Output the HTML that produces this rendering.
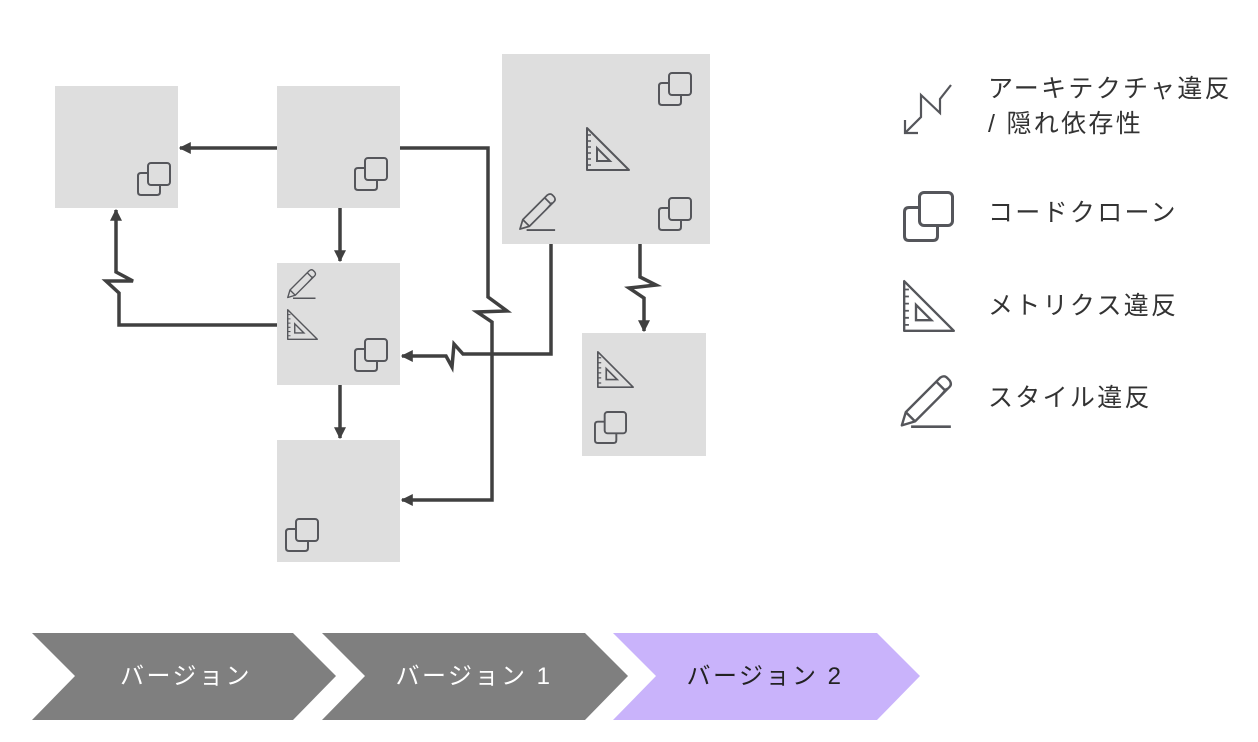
<!DOCTYPE html>
<html><head><meta charset="utf-8"><style>
html,body{margin:0;padding:0;background:#fff;}
svg{display:block;}
text{font-family:"Liberation Sans","Noto Sans CJK JP",sans-serif;}
</style></head><body>
<svg width="1258" height="742" viewBox="0 0 1258 742" xmlns="http://www.w3.org/2000/svg">
<defs>
<symbol id="clone" viewBox="0 0 34 34" overflow="visible">
<rect x="11" y="1" width="22" height="22" rx="3" fill="none" stroke="#55565b" stroke-width="2"/>
<path d="M11 11 H4 Q1 11 1 14 V30 Q1 33 4 33 H20 Q23 33 23 30 V23" fill="none" stroke="#55565b" stroke-width="2"/>
</symbol>
<symbol id="tri" viewBox="0 0 44 44" overflow="visible">
<path d="M1 1 V43 H43 Z" fill="none" stroke="#55565b" stroke-width="2" stroke-linejoin="round"/>
<path d="M11 21 V34 H24 Z" fill="none" stroke="#55565b" stroke-width="2"/>
<path d="M1 8h4M1 14h4M1 20h4M1 26h4M1 32h4M1 38h4" stroke="#55565b" stroke-width="1.5"/>
</symbol>
<symbol id="pen" viewBox="0 0 40 40" overflow="visible">
<path d="M1 38 L4 28 L30 2 Q33 0 35 2 L37 4 Q39 7 37 9 L11 35 Z M4 28 L11 35 M27 5 L34 12" fill="none" stroke="#55565b" stroke-width="1.8" stroke-linejoin="round"/>
<path d="M35 10 L28 18" stroke="#55565b" stroke-width="1.5"/>
<path d="M8 39 H38" stroke="#55565b" stroke-width="2"/>
</symbol>
<marker id="ah" viewBox="0 0 10 10" refX="9" refY="5" markerWidth="12" markerHeight="12" markerUnits="userSpaceOnUse" orient="auto">
<path d="M0 0 L10 5 L0 10 Z" fill="#404040"/>
</marker>
</defs>

<g fill="#dedede">
<rect x="55" y="86" width="123" height="122"/>
<rect x="277" y="86" width="123" height="122"/>
<rect x="502" y="54" width="208" height="190"/>
<rect x="277" y="263" width="123" height="122"/>
<rect x="277" y="440" width="123" height="122"/>
<rect x="582" y="333" width="124" height="123"/>
</g>

<use href="#clone" x="137" y="162" width="34" height="34"/>
<use href="#clone" x="354" y="157" width="34" height="34"/>
<use href="#clone" x="658" y="72" width="34" height="34"/>
<use href="#tri" x="586" y="127" width="44" height="44"/>
<use href="#clone" x="658" y="197" width="34" height="34"/>
<use href="#pen" x="519" y="193" width="38" height="38"/>
<use href="#pen" x="287" y="269" width="30" height="30"/>
<use href="#tri" x="287" y="309" width="31" height="31"/>
<use href="#clone" x="354" y="338" width="34" height="34"/>
<use href="#clone" x="285" y="518" width="34" height="34"/>
<use href="#tri" x="597" y="351" width="37" height="37"/>
<use href="#clone" x="594" y="411" width="33" height="33"/>

<g fill="none" stroke="#404040" stroke-width="3.5" stroke-linejoin="miter">
<path d="M277 148 H180" marker-end="url(#ah)"/>
<path d="M340 208 V261" marker-end="url(#ah)"/>
<path d="M340 385 V438" marker-end="url(#ah)"/>
<path d="M277 325 H119 V293 L106 281 H133 L116 272 V210" marker-end="url(#ah)"/>
<path d="M400 148 H488 V297 L507 311 L477 312 L492 322 V500 H402" marker-end="url(#ah)"/>
<path d="M551 244 V354 H463 L454 344 L452 367 L446 356 H402" marker-end="url(#ah)"/>
<path d="M640 244 V277 L656 285 L629 288 L644 298 V331" marker-end="url(#ah)"/>
</g>

<g fill="none" stroke="#55565b" stroke-width="2.2">
<path d="M951 85 L940 99 V113 L921 95 V117 L905 133"/>
<path d="M905 120 V133 H918"/>
</g>
<use href="#clone" x="903" y="191" width="51" height="51"/>
<use href="#tri" x="903" y="280" width="52" height="52"/>
<use href="#pen" x="899" y="375" width="56" height="53"/>
<g font-size="25" fill="#333" letter-spacing="2.3">
<text x="988" y="97">アーキテクチャ違反</text>
<text x="988" y="132">/ 隠れ依存性</text>
<text x="988" y="221">コードクローン</text>
<text x="988" y="314">メトリクス違反</text>
<text x="988" y="406">スタイル違反</text>
</g>

<path d="M32 633 H293 L336 676 L293 720 H32 L75 676 Z" fill="#7f7f7f"/>
<path d="M322 633 H585 L628 676 L585 720 H322 L365 676 Z" fill="#7f7f7f"/>
<path d="M613 633 H877 L920 676 L877 720 H613 L656 676 Z" fill="#c9b3fb"/>
<g font-size="24" text-anchor="middle" letter-spacing="2.5">
<text x="186" y="684" fill="#fff">バージョン</text>
<text x="474" y="684" fill="#fff">バージョン 1</text>
<text x="765" y="684" fill="#222">バージョン 2</text>
</g>
</svg>
</body></html>
